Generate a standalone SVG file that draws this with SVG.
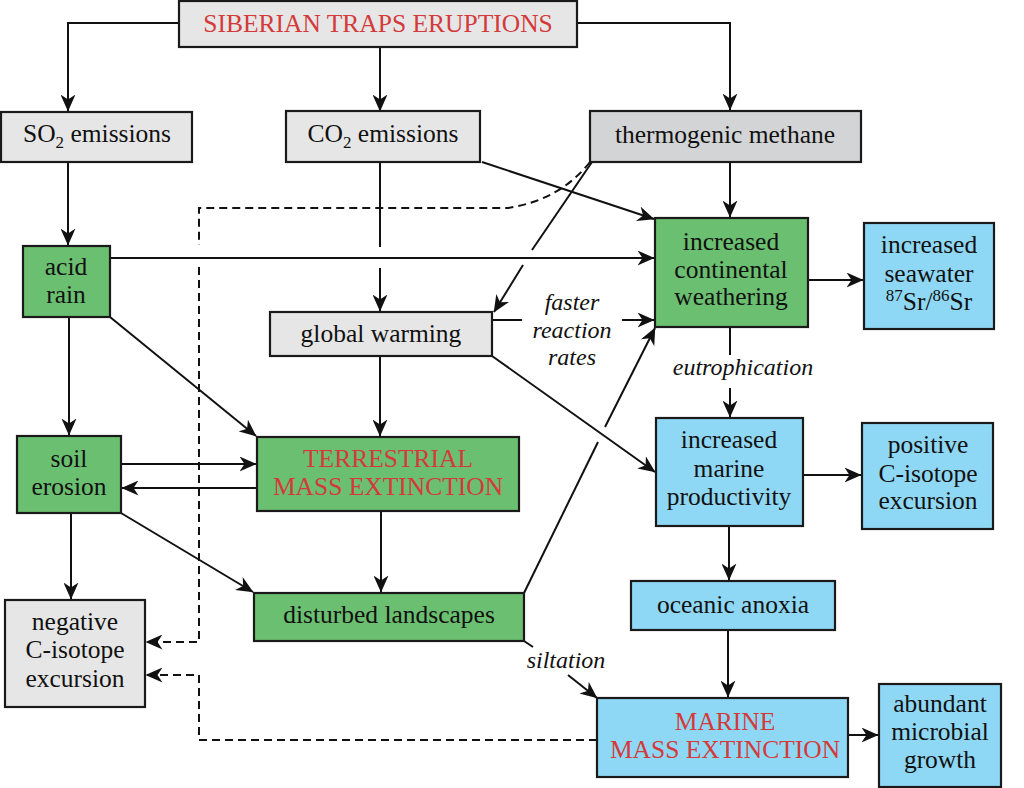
<svg xmlns="http://www.w3.org/2000/svg" width="1024" height="788" viewBox="0 0 1024 788" font-family="'Liberation Serif', 'DejaVu Serif', serif">
<defs>
<style>
.box{stroke:#1a1a1a;stroke-width:2.2}
.g{fill:#e6e6e6}.m{fill:#d3d4d6}.gr{fill:#6bbf70}.b{fill:#8fd8f5}
text{font-family:'Liberation Serif','DejaVu Serif',serif;font-size:25.5px;fill:#111;text-anchor:middle}
.red{fill:#d43a3a}
.it{font-style:italic;font-size:24px}
.c{fill:none;stroke:#111;stroke-width:2}
.d{stroke-dasharray:8,5}
.sub{font-size:17px}
</style>
<marker id="a" viewBox="0 0 17 15" refX="16.5" refY="7.5" markerWidth="17" markerHeight="15" markerUnits="userSpaceOnUse" orient="auto"><path d="M0,0 L17,7.5 L0,15 L5,7.5 Z" fill="#111"/></marker>
</defs>
<rect width="1024" height="788" fill="#fff"/>
<g id="connectors">
<path class="c" marker-end="url(#a)" d="M179,23 H68 V111"/>
<path class="c" marker-end="url(#a)" d="M380,47 V111"/>
<path class="c" marker-end="url(#a)" d="M577,23 H730 V110"/>
<path class="c" marker-end="url(#a)" d="M68,162 V245"/>
<path class="c" d="M380,162 V247"/>
<path class="c" marker-end="url(#a)" d="M380,268 V311"/>
<path class="c" marker-end="url(#a)" d="M482,162 L654,219"/>
<path class="c" marker-end="url(#a)" d="M730,162 V217"/>
<path class="c d" d="M590,162 Q560,200 508,208 H199 V245"/>
<path class="c d" marker-end="url(#a)" d="M199,267 V642 H146"/>
<path class="c" d="M592,162 L532,250"/>
<path class="c" marker-end="url(#a)" d="M523,265 L494,312"/>
<path class="c" marker-end="url(#a)" d="M110,258 H654"/>
<path class="c" marker-end="url(#a)" d="M808,280 H863"/>
<path class="c" d="M492,320 H522"/>
<path class="c" marker-end="url(#a)" d="M622,320 H654"/>
<path class="c" marker-end="url(#a)" d="M69,317 V435"/>
<path class="c" marker-end="url(#a)" d="M110,317 L256,436"/>
<path class="c" marker-end="url(#a)" d="M380,356 V436"/>
<path class="c" marker-end="url(#a)" d="M492,356 L655,472"/>
<path class="c" d="M730,327 V355"/>
<path class="c" marker-end="url(#a)" d="M730,388 V417"/>
<path class="c" marker-end="url(#a)" d="M121,464 H256"/>
<path class="c" marker-end="url(#a)" d="M257,488 H122"/>
<path class="c" marker-end="url(#a)" d="M71,513 V599"/>
<path class="c" marker-end="url(#a)" d="M121,513 L253,592"/>
<path class="c" marker-end="url(#a)" d="M381,511 V592"/>
<path class="c" d="M524,593 L598,442"/>
<path class="c" marker-end="url(#a)" d="M605,427 L655,328"/>
<path class="c" marker-end="url(#a)" d="M803,475 H861"/>
<path class="c" marker-end="url(#a)" d="M729,526 V580"/>
<path class="c" marker-end="url(#a)" d="M728,630 V697"/>
<path class="c" d="M524,641 L533,647"/>
<path class="c" marker-end="url(#a)" d="M568,675 L597,698"/>
<path class="c d" marker-end="url(#a)" d="M597,740 H199 V675 H146"/>
<path class="c" marker-end="url(#a)" d="M848,735 H878"/>
</g>
<g id="siberian"><rect class="box g" x="179" y="1" width="398" height="46"/><text class="red" x="378" y="32">SIBERIAN TRAPS ERUPTIONS</text></g>
<g id="so2"><rect class="box g" x="1" y="112" width="191" height="50"/><text x="97" y="142">SO<tspan class="sub" dy="6">2</tspan><tspan dy="-6"> emissions</tspan></text></g>
<g id="co2"><rect class="box g" x="286" y="111" width="194" height="51"/><text x="383" y="142">CO<tspan class="sub" dy="6">2</tspan><tspan dy="-6"> emissions</tspan></text></g>
<g id="methane"><rect class="box m" x="590" y="111" width="271" height="51"/><text x="725" y="143">thermogenic methane</text></g>
<g id="acid-rain"><rect class="box gr" x="23" y="246" width="87" height="71"/><text x="66" y="275">acid</text><text x="66" y="303">rain</text></g>
<g id="weathering"><rect class="box gr" x="655" y="218" width="153" height="109"/><text x="731" y="250">increased</text><text x="731" y="278">continental</text><text x="731" y="305">weathering</text></g>
<g id="seawater"><rect class="box b" x="864" y="223" width="130" height="106"/><text x="929" y="253">increased</text><text x="929" y="282">seawater</text><text x="929" y="310"><tspan class="sub" dy="-9">87</tspan><tspan dy="9">Sr/</tspan><tspan class="sub" dy="-9">86</tspan><tspan dy="9">Sr</tspan></text></g>
<g id="global-warming"><rect class="box g" x="270" y="312" width="222" height="44"/><text x="381" y="342">global warming</text></g>
<g id="label-faster"><text class="it" x="572" y="310">faster</text><text class="it" x="572" y="338">reaction</text><text class="it" x="572" y="365">rates</text></g>
<g id="label-eutro"><text class="it" x="743" y="375">eutrophication</text></g>
<g id="soil-erosion"><rect class="box gr" x="17" y="436" width="104" height="77"/><text x="69" y="467">soil</text><text x="69" y="495">erosion</text></g>
<g id="terrestrial"><rect class="box gr" x="257" y="437" width="262" height="74"/><text class="red" x="388" y="467">TERRESTRIAL</text><text class="red" x="388" y="495">MASS EXTINCTION</text></g>
<g id="productivity"><rect class="box b" x="656" y="418" width="147" height="108"/><text x="729" y="448">increased</text><text x="729" y="477">marine</text><text x="729" y="505">productivity</text></g>
<g id="positive"><rect class="box b" x="862" y="423" width="131" height="106"/><text x="928" y="453">positive</text><text x="928" y="482">C-isotope</text><text x="928" y="509">excursion</text></g>
<g id="negative"><rect class="box g" x="5" y="600" width="140" height="107"/><text x="75" y="630">negative</text><text x="75" y="658">C-isotope</text><text x="75" y="687">excursion</text></g>
<g id="disturbed"><rect class="box gr" x="254" y="593" width="270" height="48"/><text x="389" y="623">disturbed landscapes</text></g>
<g id="anoxia"><rect class="box b" x="631" y="581" width="204" height="49"/><text x="733" y="613">oceanic anoxia</text></g>
<g id="label-siltation"><text class="it" x="566" y="668">siltation</text></g>
<g id="marine"><rect class="box b" x="597" y="698" width="251" height="79"/><text class="red" x="725" y="730">MARINE</text><text class="red" x="725" y="758">MASS EXTINCTION</text></g>
<g id="microbial"><rect class="box b" x="879" y="684" width="122" height="103"/><text x="940" y="712">abundant</text><text x="940" y="740">microbial</text><text x="940" y="768">growth</text></g>
</svg>
